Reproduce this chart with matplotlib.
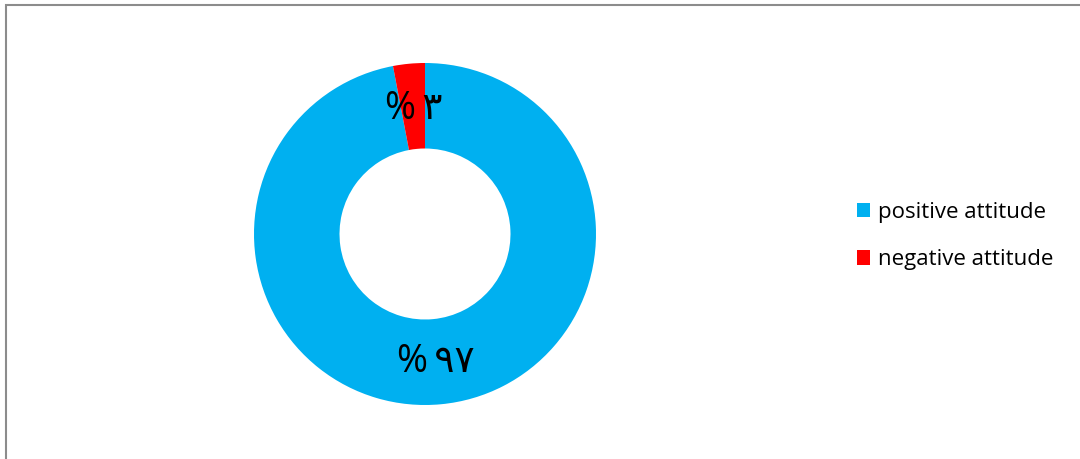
import matplotlib.pyplot as plt
from matplotlib.patches import Patch, Rectangle

# data
categories = ['positive attitude', 'negative attitude']
values = [97, 3]
labels = ['%\u2009\u06f9\u06f7', '%\u2009\u06f3']
colors = ['#00B0F0', '#FF0000']

W, H = 1080, 459
fig = plt.figure(figsize=(W / 100, H / 100), dpi=100)

# chart frame (left and top edge visible)
fig.patches.append(Rectangle((6 / W, -0.1), 1.2, 1 - 5 / H + 0.1,
                             transform=fig.transFigure, fill=False,
                             edgecolor='#8c8c8c', linewidth=1.5))

cx, cy, r = 425, 234, 171
ax = fig.add_axes([(cx - r) / W, 1 - (cy + r) / H, 2 * r / W, 2 * r / H])
wedges, _ = ax.pie(values, colors=colors, startangle=90, counterclock=False,
                   radius=1, wedgeprops=dict(width=0.5, edgecolor='none'))
ax.set_xlim(-1, 1)
ax.set_ylim(-1, 1)
ax.set_aspect('equal')
ax.axis('off')

# slice labels
fnt = ['Open Sans', 'DejaVu Sans']
ax.text(0.065, -0.75, labels[0], ha='center', va='center', fontsize=27, family=fnt)
ax.text(-0.065, 0.73, labels[1], ha='center', va='center', fontsize=27, family=fnt)

handles = [Patch(facecolor=c, edgecolor='none') for c in colors]
fig.legend(handles, categories, loc='center left', bbox_to_anchor=(837 / W, 1 - 236 / H),
           frameon=False, handlelength=0.6, handleheight=0.6,
           handletextpad=0.35, labelspacing=1.2, prop={'family': 'Open Sans', 'size': 16})

fig.savefig('out.png', dpi=100)
